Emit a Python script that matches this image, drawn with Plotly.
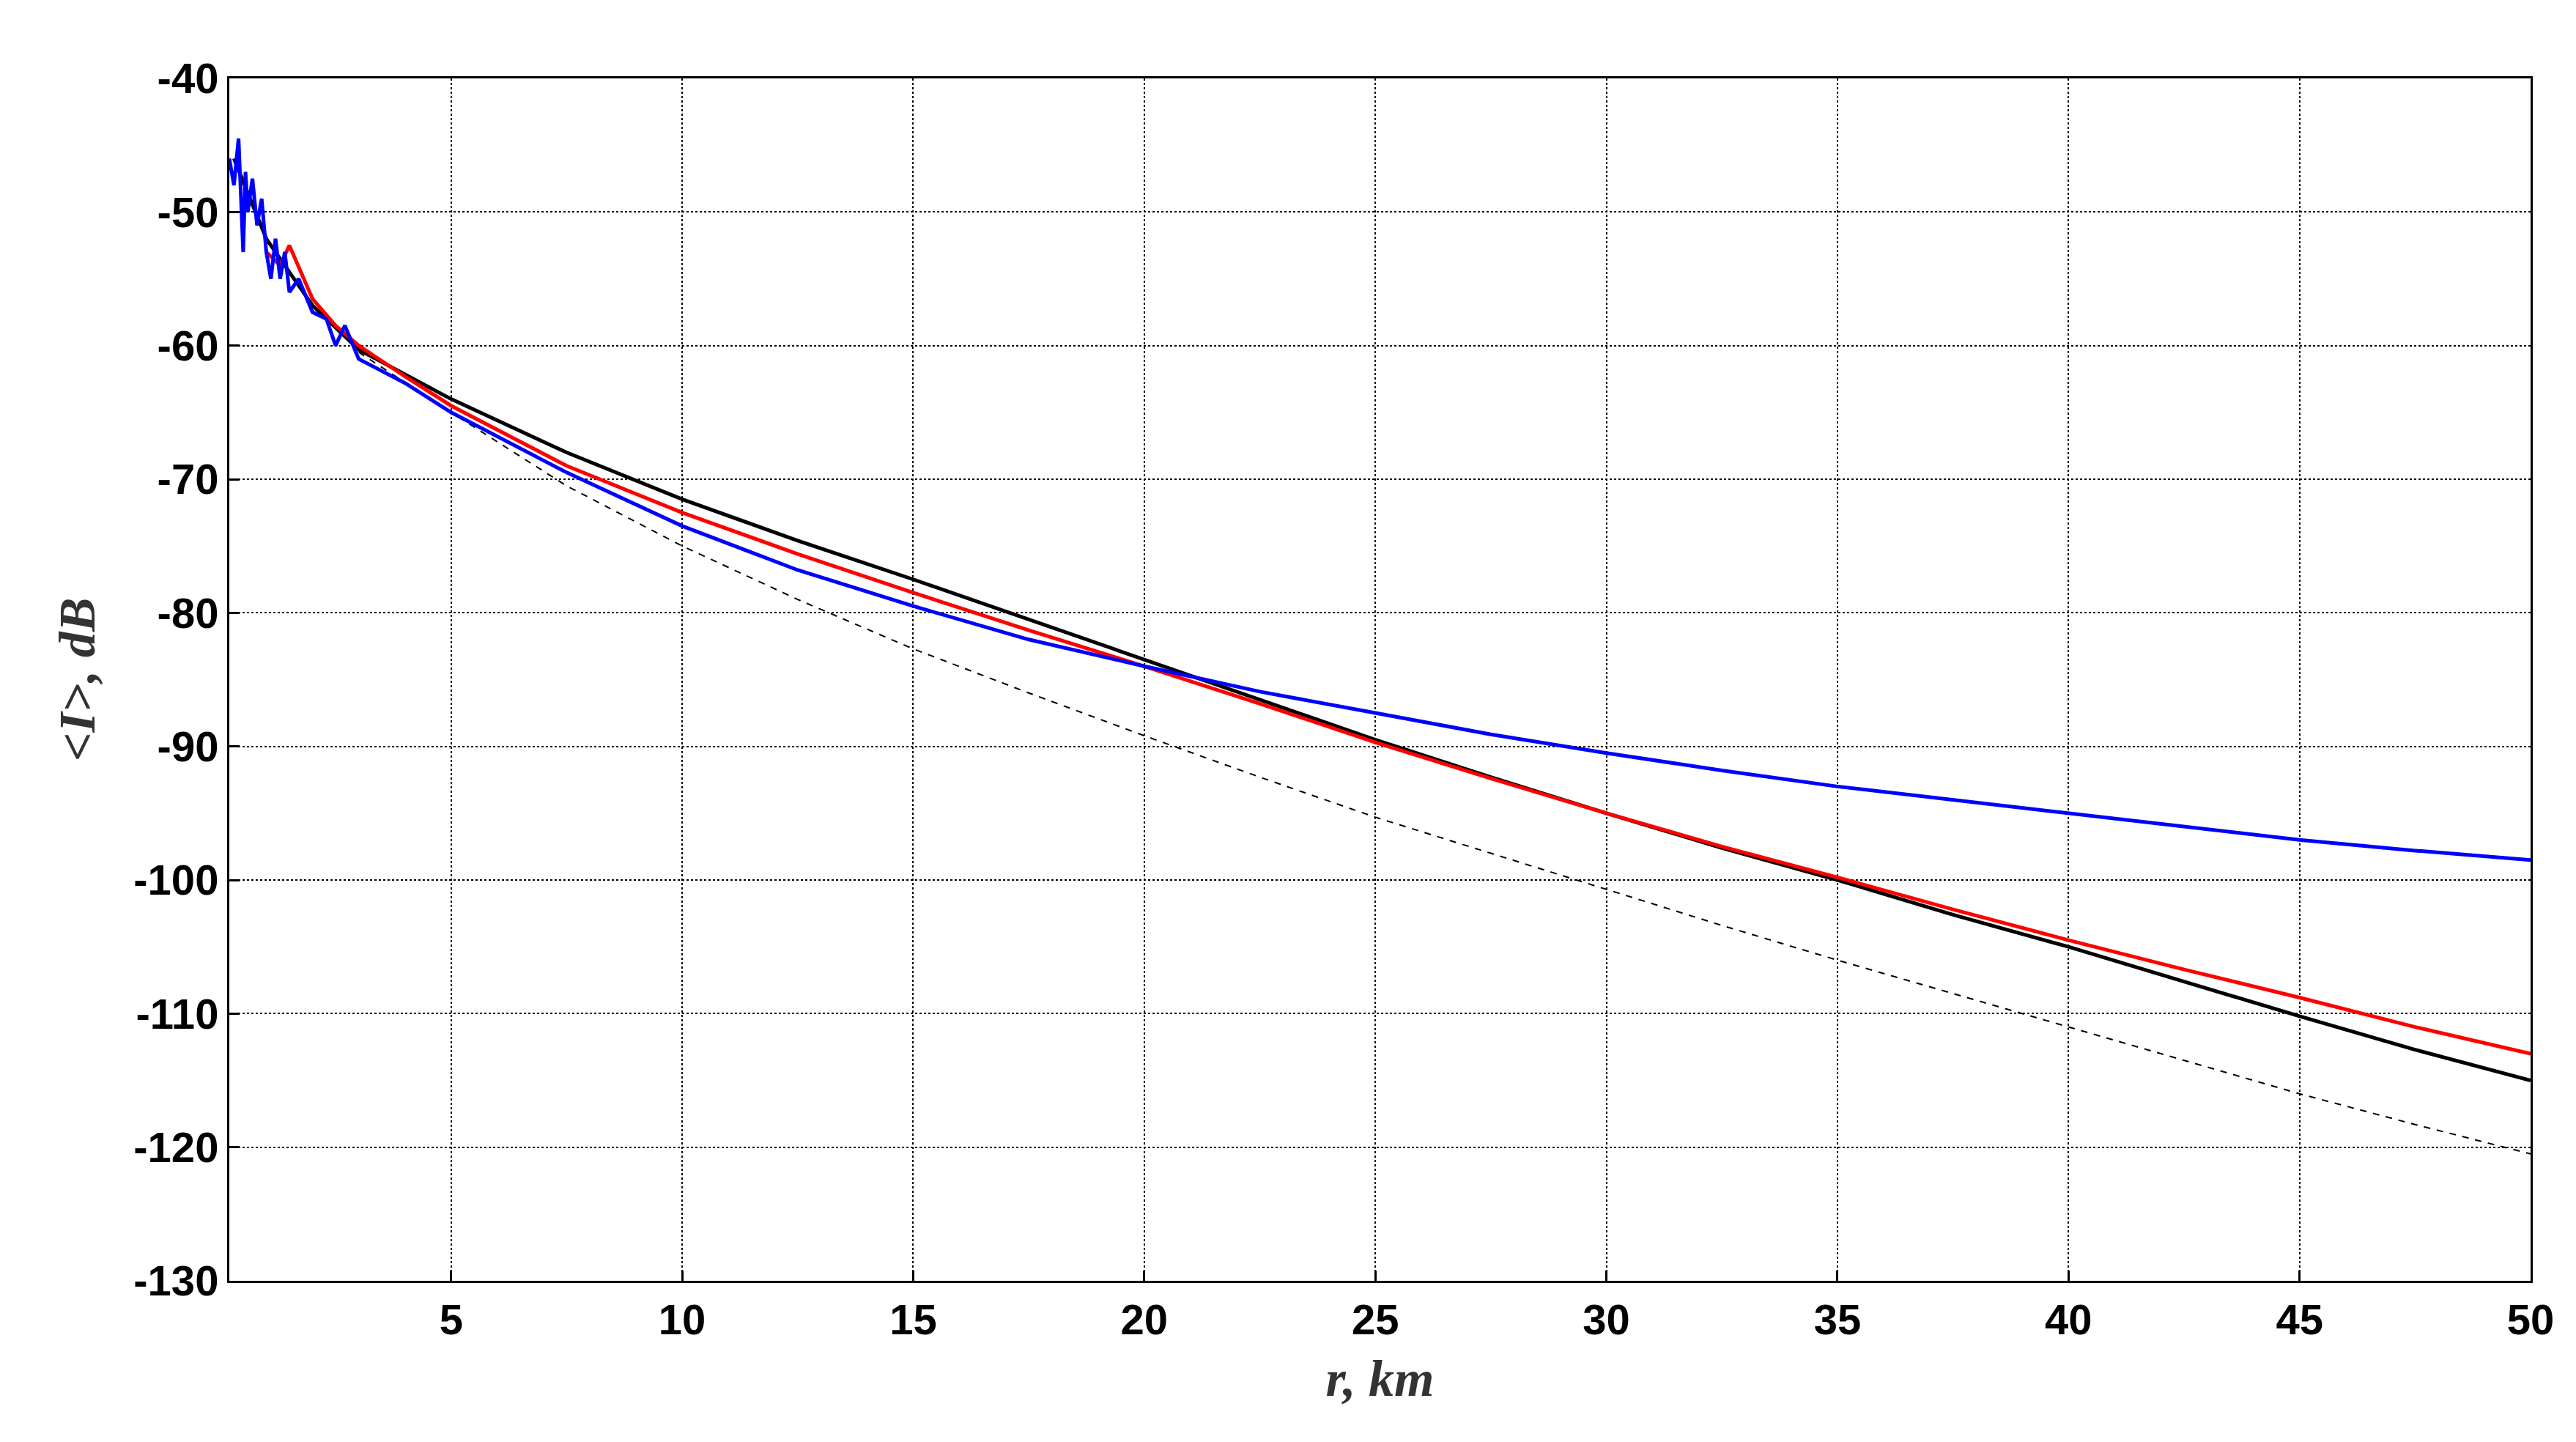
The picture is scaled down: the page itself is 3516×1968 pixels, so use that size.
import plotly.graph_objects as go

r_black = [0.3, 1.0, 2.0, 3.0, 5, 7.5, 10, 12.5, 15, 17.5, 20, 22.5, 25, 27.5, 30, 32.5, 35, 37.5, 40, 42.5, 45, 47.5, 50]
i_black = [-46, -52, -57, -60.3, -64, -68, -71.5, -74.6, -77.5, -80.5, -83.5, -86.5, -89.5, -92.3, -95, -97.6, -100, -102.6, -105, -107.6, -110.2, -112.7, -115]

r_red = [1.0, 1.3, 1.5, 2.0, 2.5, 3.0, 4.0, 5, 7.5, 10, 12.5, 15, 17.5, 20, 22.5, 25, 27.5, 30, 32.5, 35, 37.5, 40, 42.5, 45, 47.5, 50]
i_red = [-53, -54, -52.5, -56.5, -58.5, -60, -62.3, -64.5, -69, -72.5, -75.6, -78.5, -81.3, -84, -86.8, -89.7, -92.4, -95, -97.5, -99.8, -102.2, -104.5, -106.7, -108.8, -111, -113]

r_blue = [0.2, 0.3, 0.4, 0.5, 0.55, 0.6, 0.7, 0.8, 0.9, 1.0, 1.1, 1.2, 1.3, 1.4, 1.5, 1.7, 2.0, 2.3, 2.5, 2.7, 3.0, 4.0, 5, 7.5, 10, 12.5, 15, 17.5, 20, 22.5, 25, 27.5, 30, 32.5, 35, 37.5, 40, 42.5, 45, 47.5, 50]
i_blue = [-46, -48, -44.5, -53, -47, -50, -47.5, -51, -49, -53, -55, -52, -55, -53, -56, -55, -57.5, -58, -60, -58.5, -61, -62.8, -65, -69.5, -73.5, -76.8, -79.5, -82, -84, -85.9, -87.5, -89.1, -90.5, -91.8, -93, -94, -95, -96, -97, -97.8, -98.5]

r_ref = [3.0, 5, 7.5, 10, 12.5, 15, 17.5, 20, 22.5, 25, 27.5, 30, 32.5, 35, 37.5, 40, 42.5, 45, 47.5, 50]
i_ref = [-60.5, -65, -70.5, -75, -79, -82.7, -86, -89.2, -92.3, -95.3, -98, -100.7, -103.4, -106, -108.5, -111, -113.5, -116, -118.3, -120.5]

x_ticks = [5, 10, 15, 20, 25, 30, 35, 40, 45, 50]
y_ticks = [-40, -50, -60, -70, -80, -90, -100, -110, -120, -130]

fig = go.Figure()
fig.add_trace(go.Scatter(x=r_ref, y=i_ref, mode='lines',
                         line=dict(color='black', width=2, dash='dash')))
fig.add_trace(go.Scatter(x=r_black, y=i_black, mode='lines',
                         line=dict(color='black', width=5)))
fig.add_trace(go.Scatter(x=r_red, y=i_red, mode='lines',
                         line=dict(color='#ff0000', width=5)))
fig.add_trace(go.Scatter(x=r_blue, y=i_blue, mode='lines',
                         line=dict(color='#0000ff', width=5)))

tick_font = dict(family='Liberation Sans', size=58, color='black', weight=700)
title_font = dict(family='Liberation Serif', size=70, color='#333333', weight=700, style='italic')
axis_common = dict(showline=True, mirror=True, linecolor='black', linewidth=3,
                   ticks='inside', ticklen=14, tickcolor='black', tickwidth=3,
                   showgrid=True, gridcolor='black', griddash='dot', gridwidth=2,
                   zeroline=False, tickfont=tick_font)

fig.update_layout(
    width=3516, height=1968, showlegend=False,
    paper_bgcolor='white', plot_bgcolor='white',
    margin=dict(l=305, r=70, t=99, b=228),
    xaxis=dict(range=[0.2, 50], tickvals=x_ticks, ticktext=[str(v) for v in x_ticks],
               title=dict(text='r, km', font=title_font, standoff=25), **axis_common),
    yaxis=dict(range=[-130, -40], tickvals=y_ticks, ticktext=[str(v) for v in y_ticks],
               title=dict(text='&lt;I&gt;, dB', font=title_font, standoff=30), **axis_common),
)

fig.write_html("out.html")
